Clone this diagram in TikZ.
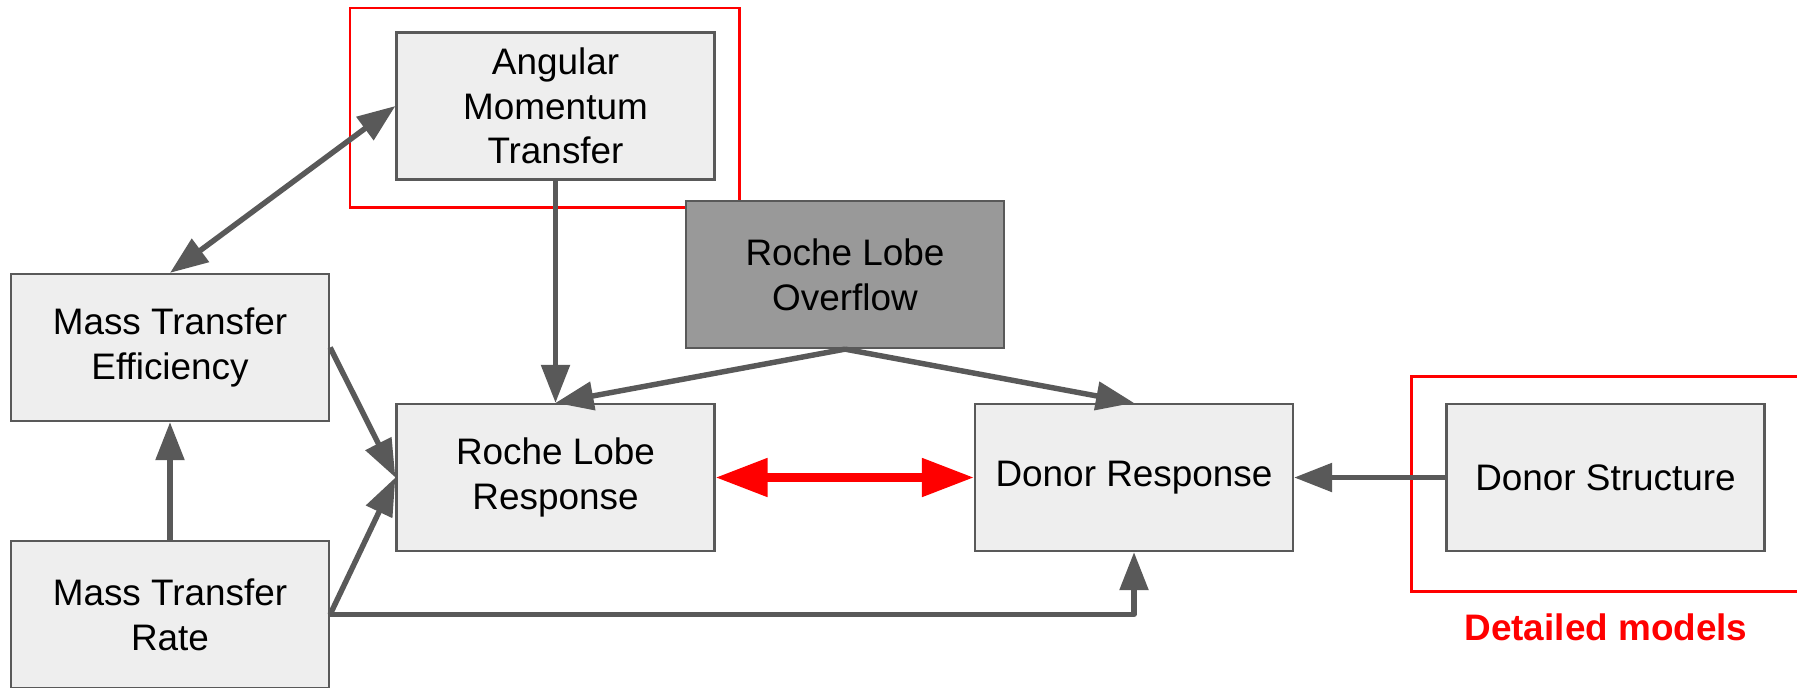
\documentclass[tikz,border=0pt]{standalone}
\usepackage{fontspec}
\setmainfont{Liberation Sans}
\usetikzlibrary{arrows.meta}
\definecolor{boxfill}{HTML}{EEEEEE}
\definecolor{boxline}{HTML}{595959}
\definecolor{lobefill}{HTML}{999999}
\definecolor{hotred}{HTML}{FF0000}
\tikzset{
  block/.style={draw=boxline, fill=boxfill, line width=1.3pt, minimum width=6.36cm,
    minimum height=2.94cm, align=center, font=\fontsize{21}{25.5}\selectfont},
  link/.style={draw=boxline, line width=3.1pt, line join=round,
    -{Triangle[length=7.6mm,width=5.6mm]}},
  twoway/.style={draw=boxline, line width=3.1pt,
    {Triangle[length=7.6mm,width=5.6mm]}-{Triangle[length=7.6mm,width=5.6mm]}},
  coupling/.style={draw=hotred, line width=4.7pt,
    {Triangle[length=10.4mm,width=7.4mm]}-{Triangle[length=10.4mm,width=7.4mm]}},
  frame/.style={draw=hotred, line width=1.7pt}
}
\begin{document}
\begin{tikzpicture}[x=0.02cm,y=-0.02cm]
      \useasboundingbox (0,0) rectangle (1797,687);
      \draw[frame](350, 8) rectangle (739, 207);
      \draw[frame](1411, 376) rectangle (1830, 591);
      \node[text=hotred, font=\fontsize{21}{25}\selectfont\bfseries] (note) at (1606, 627){Detailed models};

      \node[block] (amt) at (555.5, 106){Angular\\Momentum\\Transfer};
      \node[block] (mte) at (170, 347.5){Mass Transfer\\Efficiency};
      \node[block] (mtr) at (170, 614.5){Mass Transfer\\Rate};
      \node[block] (rlr) at (555.5, 477.5){Roche Lobe\\Response};
      \node[block, fill=lobefill] (rlo) at (845, 274.5){Roche Lobe\\Overflow};
      \node[block] (dr) at (1134, 477.5){Donor Response};
      \node[block] (ds) at (1605.5, 477.5){Donor Structure};

      \draw[twoway](amt.west) to (mte.north);
      \draw[link](amt.south) to (rlr.north);
      \draw[link](rlo.south) to (rlr.north);
      \draw[link](rlo.south) to (dr.north);
      \draw[link](mte.east) to (rlr.west);
      \draw[link](mtr.east) to (rlr.west);
      \draw[link](mtr.east) -| (dr.south);
      \draw[link](mtr.north) to (mte.south);
      \draw[link](ds.west) to (dr.east);
      \draw[coupling](rlr.east) to (dr.west);
    \end{tikzpicture}
\end{document}
